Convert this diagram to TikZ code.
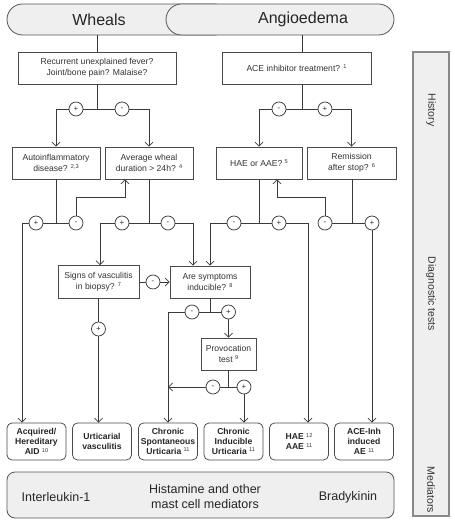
\documentclass[tikz,border=0pt]{standalone}
\usepackage{fontspec}
\setmainfont{Liberation Sans}
\usetikzlibrary{arrows.meta,calc}
\definecolor{lc}{HTML}{3A3A3A}
\definecolor{bc}{HTML}{4A4A4A}
\definecolor{tc}{HTML}{333333}
\definecolor{pf}{HTML}{EFEFEF}
\definecolor{pc}{HTML}{555555}
\definecolor{sc}{HTML}{888888}
\newcommand\fsz{\fontsize{8.6}{10.6}\selectfont}
\newcommand\fbz{\fontsize{8.6}{10}\selectfont\bfseries}
\newcommand\supn[1]{\raisebox{2.6pt}{\fontsize{5.6}{6}\selectfont\mdseries\color{tc}#1}}
\tikzset{
  ln/.style={draw=lc, line width=0.75pt},
  arr/.style={ln, -{Straight Barb[length=4pt,width=8pt]}},
  box/.style={draw=bc, fill=white, line width=0.75pt, inner sep=0pt, align=center, font=\fsz, text=tc},
  res/.style={box, rounded corners=5pt, font=\fbz, text=black!85, minimum width=59pt, minimum height=37pt},
  sgn/.style={circle, draw=lc, fill=white, line width=0.75pt, minimum size=14pt, inner sep=0pt, font=\fontsize{8}{8}\selectfont, text=tc},
  pill/.style={draw=pc, fill=pf, rounded corners=15.5pt, line width=0.8pt, inner sep=0pt, minimum height=31pt},
  ptext/.style={font=\fontsize{16}{18}\selectfont, text=black!85, inner sep=0pt},
  mtext/.style={font=\fontsize{12.5}{15}\selectfont, text=black!85, align=center, inner sep=0pt},
  stext/.style={font=\fontsize{10.5}{12}\selectfont, text=tc, rotate=-90, inner sep=0pt},
}
\begin{document}
\begin{tikzpicture}[x=1pt,y=-1pt]
\useasboundingbox (0,0) rectangle (454,526);
% pills
\node[pill, minimum width=223pt] (wh) at (118.5,19.5) {};
\node[pill, minimum width=228pt] (an) at (280,19.5) {};
\node[ptext] (whT) at (99,19.5) {Wheals};
\node[ptext] (anT) at (303,19.5) {Angioedema};
% side bar
\node[draw=sc, fill=pf, line width=1.1pt, minimum width=36pt, minimum height=464pt, inner sep=0pt] (side) at (431,284) {};
\node[stext] (sH) at (431,110) {History};
\node[stext] (sD) at (431,294) {Diagnostic tests};
\node[stext] (sM) at (431,490) {Mediators};
% mediators box
\node[draw=pc, fill=pf, rounded corners=8pt, line width=0.8pt, minimum width=387pt, minimum height=46pt, inner sep=0pt] (med) at (200.5,495) {};
\node[mtext] (mI) at (56,497) {Interleukin-1};
\node[mtext] (mH) at (205,497) {Histamine and other\\mast cell mediators};
\node[mtext] (mB) at (348,497) {Bradykinin};
% question boxes
\node[box, minimum width=158pt, minimum height=32pt] (R) at (97,68) {Recurrent unexplained fever?\\Joint/bone pain? Malaise?};
\node[box, minimum width=149pt, minimum height=32pt] (A) at (296.5,68) {ACE inhibitor treatment? \supn{1}};
\node[box, minimum width=88pt, minimum height=32pt] (AI) at (56,163) {Autoinflammatory\\disease? \supn{2,3}};
\node[box, minimum width=88pt, minimum height=32pt] (AW) at (149,163) {Average wheal\\duration {>} 24h? \supn{4}};
\node[box, minimum width=86pt, minimum height=32pt] (HA) at (259,163) {HAE or AAE? \supn{5}};
\node[box, minimum width=89pt, minimum height=32pt] (Rem) at (351.5,163) {Remission\\after stop? \supn{6}};
\node[box, minimum width=81pt, minimum height=33pt] (SV) at (98.5,282) {Signs of vasculitis\\in biopsy? \supn{7}};
\node[box, minimum width=80pt, minimum height=32pt] (ASI) at (210,282) {Are symptoms\\inducible? \supn{8}};
\node[box, minimum width=55pt, minimum height=32pt] (PT) at (228.5,354) {Provocation\\test \supn{9}};
% result boxes
\node[res] (AID) at (36.5,441.5) {Acquired/\\Hereditary\\AID \supn{10}};
\node[res] (UV) at (102,441.5) {Urticarial\\vasculitis};
\node[res] (CSU) at (168,441.5) {Chronic\\Spontaneous\\Urticaria \supn{11}};
\node[res] (CIU) at (233.5,441.5) {Chronic\\Inducible\\Urticaria \supn{11}};
\node[res] (HAE) at (299,441.5) {HAE \supn{12}\\AAE \supn{11}};
\node[res] (ACE) at (364,441.5) {ACE-Inh\\induced\\AE \supn{11}};
% coordinates
\coordinate (t1) at (97,35);
\coordinate (t2) at (302,35);
\coordinate (j1) at (97,109);
\coordinate (j2) at (302,109);
\coordinate (y223) at (0,223);
\coordinate (a22) at (22,223);
\coordinate (m1) at (76,223);
\coordinate (b1) at (76,197);
\coordinate (b2) at (125,197);
\coordinate (k2) at (149,223);
\coordinate (c100) at (100,223);
\coordinate (c193) at (193,223);
\coordinate (k3) at (210,312);
\coordinate (c168) at (168,312);
\coordinate (c228) at (228.5,312);
\coordinate (k4) at (228.5,387);
\coordinate (m4) at (213,387);
\coordinate (c244) at (244,387);
\coordinate (k5) at (259,223);
\coordinate (c210) at (210,223);
\coordinate (c308) at (308,223);
\coordinate (k6) at (352,223);
\coordinate (m6) at (325,223);
\coordinate (e1) at (325,197);
\coordinate (e2) at (277,197);
\coordinate (c372) at (372,223);
% connectors
\draw[ln] (t1) -- (R.north);
\draw[ln] (t2) -- (t2 |- A.north);
\draw[ln] (R.south) -- (j1);
\draw[arr] (j1) -| (AI.north);
\draw[arr] (j1) -| (AW.north);
\draw[ln] (j2 |- A.south) -- (j2);
\draw[arr] (j2) -| (HA.north);
\draw[arr] (j2) -| (Rem.north);
% autoinflammatory
\draw[ln] (AI.south) -- (AI.south |- y223);
\draw[arr] (m1) -- (a22) -- (a22 |- AID.north);
\draw[arr] (m1) -- (b1) -- (b2) -- (b2 |- AW.south);
% average wheal
\draw[ln] (AW.south) -- (k2);
\draw[arr] (k2) -- (c100) -- (c100 |- SV.north);
\draw[arr] (k2) -- (c193) -- (c193 |- ASI.north);
% vasculitis
\draw[arr] (SV.east) -- (ASI.west);
\draw[arr] (SV.south) -- (SV.south |- UV.north);
% inducible
\draw[ln] (ASI.south) -- (k3);
\draw[arr] (k3) -- (c168) -- (c168 |- CSU.north);
\draw[arr] (k3) -- (c228) -- (PT.north);
% provocation
\draw[ln] (PT.south) -- (k4);
\draw[arr] (k4) -- (k4 -| CSU.north);
\draw[arr] (k4) -- (c244) -- (c244 |- CIU.north);
% HAE or AAE
\draw[ln] (HA.south) -- (k5);
\draw[arr] (k5) -- (c210) -- (c210 |- ASI.north);
\draw[arr] (k5) -- (c308) -- (c308 |- HAE.north);
% remission
\draw[ln] (k6 |- Rem.south) -- (k6) -- (m6);
\draw[arr] (m6) -- (e1) -- (e2) -- (e2 |- HA.south);
\draw[arr] (k6) -- (c372) -- (c372 |- ACE.north);
% signs
\node[sgn] (s1) at (76,109) {+};
\node[sgn] (s2) at (122,109) {-};
\node[sgn] (s3) at (279,109) {-};
\node[sgn] (s4) at (325,109) {+};
\node[sgn] (s5) at (36,223) {+};
\node[sgn] (s6) at (m1) {-};
\node[sgn] (s7) at (122,223) {+};
\node[sgn] (s8) at (168,223) {-};
\node[sgn] (s9) at (234,223) {-};
\node[sgn] (s10) at (279,223) {+};
\node[sgn] (s11) at (m6) {-};
\node[sgn] (s12) at (c372) {+};
\node[sgn] (s13) at (153,282) {-};
\node[sgn] (s14) at (98.5,329) {+};
\node[sgn] (s15) at (192,312) {-};
\node[sgn] (s16) at (c228) {+};
\node[sgn] (s17) at (m4) {-};
\node[sgn] (s18) at (c244) {+};
\end{tikzpicture}
\end{document}
